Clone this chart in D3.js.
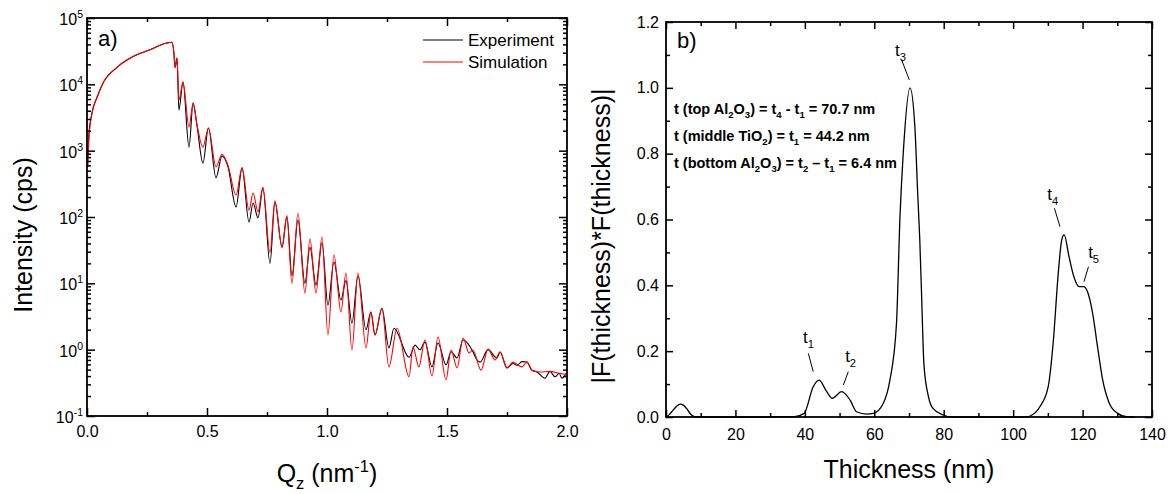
<!DOCTYPE html>
<html><head><meta charset="utf-8">
<script src="https://cdn.jsdelivr.net/npm/d3@7"></script>
<style>body{margin:0;background:#fff} svg{display:block} text{white-space:pre}</style>
</head><body><svg id="c" width="1172" height="494"></svg>
<script>
// ---------- data: panel a (XRR) ----------
const qExp = [0.004,0.008,0.021,0.042,0.067,0.125,0.19,0.26,0.333,0.354,0.362,0.367,0.375,0.383,0.4,0.425,0.442,0.458,0.483,0.506,0.5375,0.5625,0.5875,0.621,0.646,0.675,0.692,0.7125,0.733,0.7625,0.783,0.8125,0.833,0.854,0.879,0.908,0.929,0.954,0.979,1.004,1.029,1.058,1.079,1.104,1.129,1.1625,1.183,1.2,1.229,1.258,1.279,1.342,1.367,1.387,1.408,1.4375,1.4625,1.496,1.517,1.542,1.567,1.608,1.62,1.638,1.671,1.708,1.721,1.75,1.775,1.792,1.8125,1.833,1.854,1.875,1.908,1.929,1.95,1.967,1.979,2.0];
const iExp = [920,1800,3700,6400,10500,18000,26000,33000,42000,43000,30000,18000,25000,4100,10800,1130,5200,2440,650,2200,390,830,570,142,550,84,163,97,274,20,168,35,100,13,90,10,35,9.4,41,4.7,21,5.6,11,2.5,13,2.0,3.7,1.66,4.2,1.06,2.1,0.77,1.17,0.995,1.3,0.55,1.26,0.59,0.93,0.75,1.4,0.93,0.75,0.65,1.0,0.75,0.92,0.53,0.62,0.58,0.66,0.65,0.49,0.46,0.37,0.47,0.39,0.44,0.37,0.46];
const qSim = [0.004,0.008,0.021,0.042,0.067,0.125,0.19,0.26,0.333,0.354,0.362,0.367,0.375,0.383,0.4,0.425,0.442,0.458,0.483,0.506,0.5375,0.5625,0.5875,0.621,0.646,0.675,0.692,0.7125,0.733,0.7625,0.783,0.8125,0.833,0.854,0.879,0.908,0.929,0.954,0.979,1.004,1.029,1.058,1.079,1.104,1.129,1.1625,1.183,1.2,1.229,1.258,1.292,1.342,1.358,1.383,1.408,1.4375,1.4625,1.496,1.517,1.542,1.567,1.592,1.608,1.642,1.671,1.7,1.721,1.75,1.775,1.8125,1.833,1.854,1.8875,1.929,1.967,2.0];
const iSim = [570,1500,3700,6400,10500,18000,26000,33000,42000,43000,30000,18000,25000,5800,10800,2280,5200,2500,1130,2200,570,880,600,215,550,127,230,119,280,29,175,35,105,10,115,7.1,47,7.1,50,1.66,27,3.7,14.3,0.99,14.3,1.06,3.7,1.66,4.2,0.55,2.1,0.39,1.1,0.55,1.4,0.40,1.55,0.35,0.99,0.53,1.5,0.89,0.99,0.49,1.02,0.70,0.92,0.53,0.65,0.55,0.65,0.49,0.46,0.47,0.44,0.42];
const qTicks = [0,0.5,1.0,1.5,2.0];
const qMinor = [0.25,0.75,1.25,1.75];
const logExps = [-1,0,1,2,3,4,5];
const seriesA = ["Experiment","Simulation"];

// ---------- data: panel b (thickness function) ----------
const thick = [0,1,2,3,4.1,5,6,7,8,9,30,37,39.8,42.4,44.1,46.3,47.9,50.6,53,54.9,57.8,59.7,62.6,64.5,66.4,67.4,68.4,70.3,71.7,72.5,73.1,73.6,74.3,75.6,76.9,79.9,82,104,104.9,107.7,110.1,111.6,113,114,114.7,116.1,117.5,119,120.3,121.4,122.9,124.3,125.8,127.7,130.1,133,135];
const ffVal = [0,0.008,0.02,0.032,0.039,0.036,0.025,0.01,0.002,0,0,0.001,0.011,0.092,0.112,0.077,0.057,0.077,0.052,0.016,0.009,0.011,0.042,0.112,0.285,0.608,0.811,1.0,0.88,0.68,0.54,0.38,0.16,0.062,0.026,0.006,0,0,0.003,0.031,0.092,0.234,0.437,0.538,0.553,0.487,0.426,0.396,0.396,0.381,0.315,0.214,0.112,0.042,0.011,0,0];
const tTicks = [0,20,40,60,80,100,120,140];
const tMinor = [10,30,50,70,90,110,130];
const fTicks = [0,0.2,0.4,0.6,0.8,1.0,1.2];
const fMinor = [0.1,0.3,0.5,0.7,0.9,1.1];
const peakNames = ["1","2","3","4","5"];
// annotation anchors in data units (thickness, value)
const peakLabelAt = [[39.5,0.225],[51.6,0.167],[66.0,1.097],[109.8,0.659],[121.6,0.483]];
const peakLeader = [[[41.0,0.1935],[42.4,0.1376]],[[52.5,0.1376],[51.1,0.0972]],[[67.9,1.084],[70.1,1.024]],[[111.9,0.634],[113.5,0.578]],[[121.7,0.4566],[120.4,0.411]]];
const infoLines = [
  ["t (top Al",["2","sub"],"O",["3","sub"],") = t",["4","sub"]," - t",["1","sub"]," = 70.7 nm"],
  ["t (middle TiO",["2","sub"],") = t",["1","sub"]," = 44.2 nm"],
  ["t (bottom Al",["2","sub"],"O",["3","sub"],") = t",["2","sub"]," \u2013 t",["1","sub"]," = 6.4 nm"]
];

// ---------- drawing ----------
const F = '"Liberation Sans", Arial, Helvetica, sans-serif';
const svg = d3.select('#c');
const A = {l:87, r:567, t:18, b:416};
const B = {l:666, r:1152, t:22, b:417};
const xA = d3.scaleLinear().domain([0,2]).range([A.l,A.r]);
const yA = d3.scaleLog().domain([0.1,1e5]).range([A.b,A.t]);
const xB = d3.scaleLinear().domain([0,140]).range([B.l,B.r]);
const yB = d3.scaleLinear().domain([0,1.2]).range([B.b,B.t]);

function rich(sel, parts, size){
  let shift = 0;
  parts.forEach(p => {
    const [s,m] = typeof p === 'string' ? [p,null] : p;
    const target = m==='sub' ? size*0.28 : m==='sup' ? -size*0.42 : 0;
    const ts = sel.append('tspan').attr('dy', target-shift).text(s);
    if (m) ts.attr('font-size', size*0.66);
    shift = target;
  });
}
function axis(gen, scale, vals, size, fmt, tr, pad){
  const a = gen(scale).tickValues(vals).tickSize(size).tickSizeOuter(0).tickPadding(pad||6)
    .tickFormat(fmt || (()=>''));
  const s = svg.append('g').attr('transform',tr).call(a);
  s.select('.domain').remove();
  s.selectAll('line').attr('stroke','#000').attr('stroke-width',1.5);
  s.selectAll('text').attr('font-size',16).attr('font-family',F).attr('fill','#000');
  return s;
}

// ----- panel a -----
const lineA = d3.line().x(d=>xA(d[0])).y(d=>yA(d[1])).curve(d3.curveMonotoneX);
svg.append('path').datum(d3.zip(qExp,iExp)).attr('d',lineA).attr('fill','none').attr('stroke','#000').attr('stroke-width',1.1);
svg.append('path').datum(d3.zip(qSim,iSim)).attr('d',lineA).attr('fill','none').attr('stroke','#ff0000').attr('stroke-width',1.1);

const fmt1 = d3.format('.1f');
axis(d3.axisBottom, xA, qTicks, -8, fmt1, `translate(0,${A.b})`, 10);
axis(d3.axisBottom, xA, qMinor, -4, null, `translate(0,${A.b})`);
axis(d3.axisTop, xA, qTicks, -8, null, `translate(0,${A.t})`);
axis(d3.axisTop, xA, qMinor, -4, null, `translate(0,${A.t})`);
const logMajor = logExps.map(e=>Math.pow(10,e));
const logMinor = [];
logExps.slice(0,-1).forEach(e=>{ for(let k=2;k<=9;k++) logMinor.push(k*Math.pow(10,e)); });
axis(d3.axisLeft, yA, logMajor, -8, null, `translate(${A.l},0)`);
axis(d3.axisLeft, yA, logMinor, -4, null, `translate(${A.l},0)`);
axis(d3.axisRight, yA, logMajor, -8, null, `translate(${A.r},0)`);
axis(d3.axisRight, yA, logMinor, -4, null, `translate(${A.r},0)`);
logExps.forEach(e=>{
  const t = svg.append('text').attr('x',A.l-4).attr('y',yA(Math.pow(10,e))+7)
    .attr('text-anchor','end').attr('font-family',F).attr('font-size',16);
  t.append('tspan').text('10');
  t.append('tspan').attr('dy',-7).attr('font-size',10.5).text(String(e));
});
svg.append('rect').attr('x',A.l).attr('y',A.t).attr('width',A.r-A.l).attr('height',A.b-A.t)
  .attr('fill','none').attr('stroke','#000').attr('stroke-width',1.8);

// legend
const legColors = ['#000','#ff0000'];
seriesA.forEach((s,i)=>{
  const y = A.t + 22 + i*22;
  svg.append('line').attr('x1',A.r-144).attr('x2',A.r-104).attr('y1',y).attr('y2',y)
    .attr('stroke',legColors[i]).attr('stroke-width',1.1);
  svg.append('text').attr('x',A.r-99).attr('y',y+6).attr('font-family',F).attr('font-size',17).text(s);
});
svg.append('text').attr('x',A.l+11).attr('y',A.t+28).attr('font-family',F).attr('font-size',22).text('a)');

// axis titles a
const tq = svg.append('text').attr('x',(A.l+A.r)/2).attr('y',482).attr('text-anchor','middle')
  .attr('font-family',F).attr('font-size',25);
rich(tq, ["Q",["z","sub"]," (nm",["-1","sup"],")"], 25);
svg.append('text').attr('transform',`translate(32,235) rotate(-90)`).attr('text-anchor','middle')
  .attr('font-family',F).attr('font-size',25).text('Intensity (cps)');

// ----- panel b -----
const lineB = d3.line().x(d=>xB(d[0])).y(d=>yB(d[1])).curve(d3.curveMonotoneX);
svg.append('path').datum(d3.zip(thick,ffVal)).attr('d',lineB).attr('fill','none').attr('stroke','#000').attr('stroke-width',1.3);

axis(d3.axisBottom, xB, tTicks, -7, d3.format('d'), `translate(0,${B.b})`, 12);
axis(d3.axisBottom, xB, tMinor, -4, null, `translate(0,${B.b})`);
axis(d3.axisTop, xB, tTicks, -7, null, `translate(0,${B.t})`);
axis(d3.axisTop, xB, tMinor, -4, null, `translate(0,${B.t})`);
axis(d3.axisLeft, yB, fTicks, -7, fmt1, `translate(${B.l},0)`, 7);
axis(d3.axisLeft, yB, fMinor, -4, null, `translate(${B.l},0)`);
axis(d3.axisRight, yB, fTicks, -7, null, `translate(${B.r},0)`);
axis(d3.axisRight, yB, fMinor, -4, null, `translate(${B.r},0)`);
svg.append('rect').attr('x',B.l).attr('y',B.t).attr('width',B.r-B.l).attr('height',B.b-B.t)
  .attr('fill','none').attr('stroke','#000').attr('stroke-width',1.8);

svg.append('text').attr('x',B.l+11).attr('y',B.t+26).attr('font-family',F).attr('font-size',22).text('b)');

// info lines
infoLines.forEach((parts,i)=>{
  const t = svg.append('text').attr('x',xB(2.3)).attr('y',yB(0.92 - i*0.082))
    .attr('font-family',F).attr('font-size',14.5).attr('font-weight','bold');
  rich(t, parts, 14.5);
});
// peak labels
peakNames.forEach((n,i)=>{
  const t = svg.append('text').attr('x',xB(peakLabelAt[i][0])).attr('y',yB(peakLabelAt[i][1]))
    .attr('font-family',F).attr('font-size',17);
  rich(t, ["t",[n,"sub"]], 17);
  const L = peakLeader[i];
  svg.append('line').attr('x1',xB(L[0][0])).attr('y1',yB(L[0][1])).attr('x2',xB(L[1][0])).attr('y2',yB(L[1][1]))
    .attr('stroke','#000').attr('stroke-width',1);
});

svg.append('text').attr('x',(B.l+B.r)/2).attr('y',478).attr('text-anchor','middle')
  .attr('font-family',F).attr('font-size',25).text('Thickness (nm)');
svg.append('text').attr('transform',`translate(610,236) rotate(-90)`).attr('text-anchor','middle')
  .attr('font-family',F).attr('font-size',25).text('|F(thickness)*F(thickness)|');
</script></body></html>
